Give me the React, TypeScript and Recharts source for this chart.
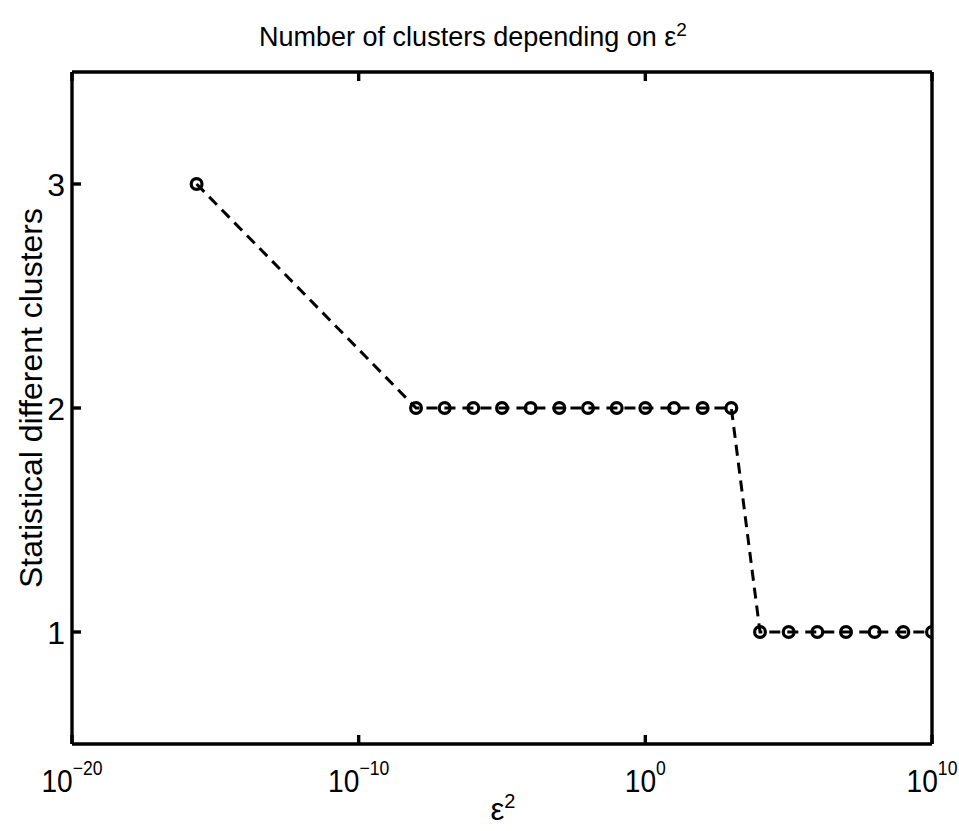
import React from "react";
import { LineChart, Line, XAxis, YAxis } from "recharts";

const epsilonSquared = [
  2.22e-16,
  1e-8, 1e-7, 1e-6, 1e-5, 1e-4, 1e-3, 1e-2, 1e-1, 1e0, 1e1, 1e2, 1e3,
  1e4, 1e5, 1e6, 1e7, 1e8, 1e9, 1e10,
];
const clusterCounts = [
  3,
  2, 2, 2, 2, 2, 2, 2, 2, 2, 2, 2, 2,
  1, 1, 1, 1, 1, 1, 1,
];
const xTicks = [1e-20, 1e-10, 1e0, 1e10];
const yTicks = [1, 2, 3];
const titleText = "Number of clusters depending on ε";
const xLabelText = "ε";
const yLabelText = "Statistical different clusters";

const data = epsilonSquared.map((x, i) => ({ x, y: clusterCounts[i] }));

const FONT = "'Liberation Sans', Arial, Helvetica, sans-serif";
const TITLE_FS = 27;
const FS = 32;
const SUP_FS = 20;
const TICK_LEN = 9;
const AXIS_W = 3.4;

const expOf = (v: number) => Math.round(Math.log10(v));

const BottomTick = (props: any) => {
  const { x, y, payload } = props;
  return (
    <g>
      <line x1={x} y1={y} x2={x} y2={y - TICK_LEN} stroke="#000" strokeWidth={AXIS_W} />
      <g transform={`translate(${x}, ${y + 48}) scale(0.88, 1)`}>
        <text x={0} y={0} textAnchor="middle" fontFamily={FONT} fontSize={FS} fill="#000">
          10
          <tspan dy={-17} fontSize={SUP_FS}>{String(expOf(payload.value)).replace("-", "\u2212")}</tspan>
        </text>
      </g>
    </g>
  );
};

const TopTick = (props: any) => {
  const { x, y } = props;
  return <line x1={x} y1={y} x2={x} y2={y + TICK_LEN} stroke="#000" strokeWidth={AXIS_W} />;
};

const LeftTick = (props: any) => {
  const { x, y, payload } = props;
  return (
    <g>
      <line x1={x} y1={y} x2={x + TICK_LEN} y2={y} stroke="#000" strokeWidth={AXIS_W} />
      <text x={x - 7} y={y + 12} textAnchor="end" fontFamily={FONT} fontSize={FS} fill="#000">
        {payload.value}
      </text>
    </g>
  );
};

const RightTick = (props: any) => {
  const { x, y } = props;
  return <line x1={x} y1={y} x2={x - TICK_LEN} y2={y} stroke="#000" strokeWidth={AXIS_W} />;
};

const CircleDot = (props: any) => {
  const { cx, cy, index } = props;
  if (cx == null || cy == null) return null;
  return <circle key={index} cx={cx} cy={cy} r={5.4} fill="none" stroke="#000" strokeWidth={3.2} />;
};

export default function App() {
  return (
    <div style={{ position: "absolute", left: 0, top: 0, width: 959, height: 831, background: "#fff", overflow: "hidden" }}>
      <div
        style={{
          position: "absolute",
          left: 0,
          width: 946,
          top: 21,
          textAlign: "center",
          fontFamily: FONT,
          fontSize: TITLE_FS,
          lineHeight: "32px",
          color: "#000",
          whiteSpace: "nowrap",
        }}
      >
        {titleText}
        <sup style={{ fontSize: 19, verticalAlign: "0.55em", lineHeight: 0 }}>2</sup>
      </div>
      <div
        style={{
          position: "absolute",
          left: 0,
          width: 1006,
          top: 794,
          textAlign: "center",
          fontFamily: FONT,
          fontSize: 31,
          lineHeight: "32px",
          color: "#000",
        }}
      >
        {xLabelText}
        <sup style={{ fontSize: SUP_FS, verticalAlign: "0.6em", lineHeight: 0 }}>2</sup>
      </div>
      <div
        style={{
          position: "absolute",
          left: 31,
          top: 398,
          transform: "translate(-50%, -50%) rotate(-90deg)",
          fontFamily: FONT,
          fontSize: FS,
          lineHeight: "36px",
          color: "#000",
          whiteSpace: "nowrap",
        }}
      >
        {yLabelText}
      </div>
      <div style={{ position: "absolute", left: 0, top: 0 }}>
        <LineChart
          width={959}
          height={831}
          data={data}
          margin={{ top: 62, right: 17, bottom: 47, left: 32 }}
        >
          <XAxis
            dataKey="x"
            type="number"
            scale="log"
            domain={[1e-20, 1e10]}
            ticks={xTicks}
            allowDataOverflow
            xAxisId="bottom"
            orientation="bottom"
            height={40}
            tickSize={0}
            tickMargin={0}
            tickLine={false}
            axisLine={{ stroke: "#000", strokeWidth: AXIS_W }}
            tick={<BottomTick />}
            interval={0}
          />
          <XAxis
            dataKey="x"
            type="number"
            scale="log"
            domain={[1e-20, 1e10]}
            ticks={xTicks}
            allowDataOverflow
            xAxisId="top"
            orientation="top"
            height={10}
            tickSize={0}
            tickMargin={0}
            tickLine={false}
            axisLine={{ stroke: "#000", strokeWidth: AXIS_W }}
            tick={<TopTick />}
            interval={0}
          />
          <YAxis
            type="number"
            domain={[0.5, 3.5]}
            ticks={yTicks}
            yAxisId="left"
            orientation="left"
            width={40}
            tickSize={0}
            tickMargin={0}
            tickLine={false}
            axisLine={{ stroke: "#000", strokeWidth: AXIS_W }}
            tick={<LeftTick />}
            interval={0}
          />
          <YAxis
            type="number"
            domain={[0.5, 3.5]}
            ticks={yTicks}
            yAxisId="right"
            orientation="right"
            width={10}
            tickSize={0}
            tickMargin={0}
            tickLine={false}
            axisLine={{ stroke: "#000", strokeWidth: AXIS_W }}
            tick={<RightTick />}
            interval={0}
          />
          <Line
            xAxisId="bottom"
            yAxisId="left"
            dataKey="y"
            type="linear"
            stroke="#000"
            strokeWidth={3}
            strokeDasharray="11 7"
            dot={<CircleDot />}
            activeDot={false}
            isAnimationActive={false}
          />
        </LineChart>
      </div>
    </div>
  );
}
